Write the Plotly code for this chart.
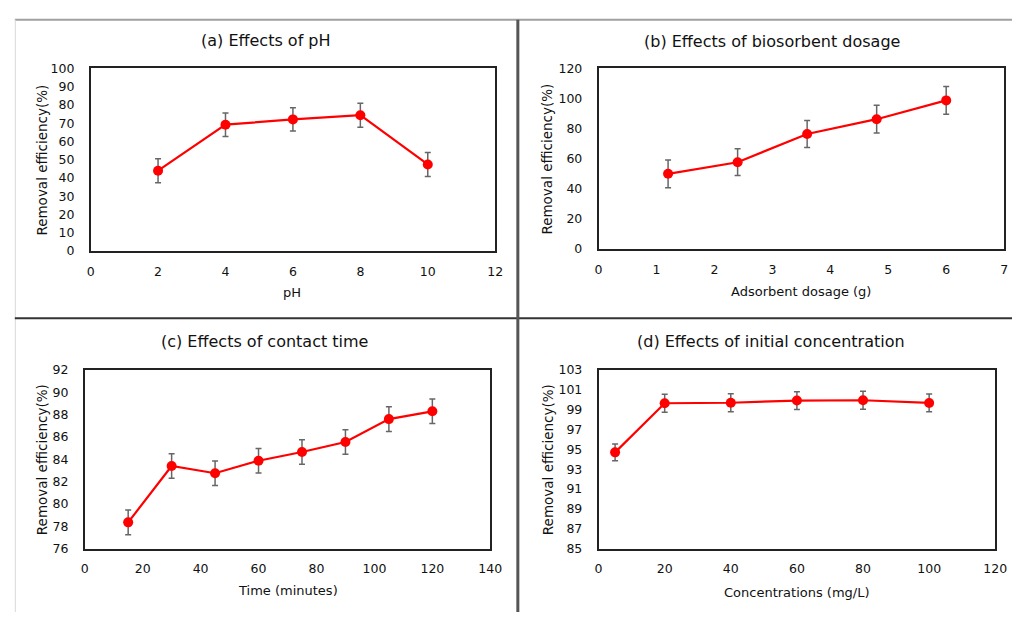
import plotly.graph_objects as go

W, H = 1024, 619

# ---- data ----
ph_x = [2, 4, 6, 8, 10]
ph_y = [44.0, 69.2, 72.1, 74.4, 47.4]
ph_err = [6.6, 6.4, 6.4, 6.6, 6.6]

dose_x = [1.2, 2.4, 3.6, 4.8, 6.0]
dose_y = [50.0, 57.7, 76.5, 86.3, 98.8]
dose_err = [9.2, 8.9, 9.0, 9.2, 9.2]

time_x = [15, 30, 45, 60, 75, 90, 105, 120]
time_y = [78.35, 83.4, 82.75, 83.87, 84.65, 85.55, 87.6, 88.3]
time_err = [1.1, 1.1, 1.1, 1.1, 1.1, 1.1, 1.1, 1.1]

conc_x = [5, 20, 40, 60, 80, 100]
conc_y = [94.7, 99.65, 99.7, 99.92, 99.95, 99.68]
conc_err = [0.85, 0.9, 0.9, 0.9, 0.9, 0.9]

titles = ["(a) Effects of pH", "(b) Effects of biosorbent dosage",
          "(c) Effects of contact time", "(d) Effects of initial concentration"]
x_titles = ["pH", "Adsorbent dosage (g)", "Time (minutes)", "Concentrations (mg/L)"]
y_title = "Removal efficiency(%)"

x_ranges = [[0, 12], [0, 7], [0, 140], [0, 120]]
x_dticks = [2, 1, 20, 20]
y_ranges = [[0, 100], [0, 120], [76, 92], [85, 103]]
y_dticks = [10, 20, 2, 2]

# pixel boxes: (left, right, top, bottom)
boxes = [(88, 499, 62, 249), (604, 1016, 62, 247), (82, 494, 371, 554), (604, 1007, 371, 554)]
title_pos = [(266, 33), (780, 34), (265, 342), (779, 342)]
ytitle_pos = [(39, 156), (552, 155), (38, 463), (552, 463)]
xtitle_pos = [(293, 292), (810, 291), (288, 597), (806, 599)]

FONT = "DejaVu Sans"
RED = "#ff0000"
TXT = "#111111"

def px(x):
    return x / W

def py(y):
    return 1 - y / H

fig = go.Figure()
series = [(ph_x, ph_y, ph_err), (dose_x, dose_y, dose_err),
          (time_x, time_y, time_err), (conc_x, conc_y, conc_err)]

layout = dict(
    width=W, height=H, margin=dict(l=0, r=0, t=0, b=0),
    paper_bgcolor="white", plot_bgcolor="white", showlegend=False,
    font=dict(family=FONT, color=TXT, size=12),
)
annotations = []
for i, ((xs, ys, es), box) in enumerate(zip(series, boxes)):
    n = "" if i == 0 else str(i + 1)
    fig.add_trace(go.Scatter(
        x=xs, y=ys, mode="lines+markers", xaxis="x" + n, yaxis="y" + n,
        line=dict(color=RED, width=2.2),
        marker=dict(color=RED, size=10),
        error_y=dict(type="data", array=es, visible=True, color="#666666",
                     thickness=1.5, width=3),
    ))
    l, r, t, b = box
    axis_common = dict(showline=True, linecolor="#222", linewidth=1.5, mirror=True,
                       showgrid=False, zeroline=False, ticks="outside",
                       tickcolor="rgba(0,0,0,0)",
                       tickfont=dict(family=FONT, size=12.5, color=TXT))
    layout["xaxis" + n] = dict(axis_common, domain=[px(l), px(r)], range=x_ranges[i],
                               dtick=x_dticks[i], tick0=0, ticklen=8,
                               anchor="y" + n)
    layout["yaxis" + n] = dict(axis_common, domain=[py(b), py(t)], range=y_ranges[i],
                               dtick=y_dticks[i], tick0=y_ranges[i][0], ticklen=12,
                               anchor="x" + n)
    tx, ty = title_pos[i]
    annotations.append(dict(text=titles[i], x=px(tx), y=py(ty), xref="paper", yref="paper",
                            showarrow=False, xanchor="center", yanchor="middle",
                            font=dict(family=FONT, size=16, color=TXT)))
    ax_, ay_ = ytitle_pos[i]
    annotations.append(dict(text=y_title, x=px(ax_), y=py(ay_), xref="paper", yref="paper",
                            showarrow=False, xanchor="center", yanchor="middle", textangle=-90,
                            font=dict(family=FONT, size=13.5, color=TXT)))
    bx, by = xtitle_pos[i]
    annotations.append(dict(text=x_titles[i], x=px(bx), y=py(by), xref="paper", yref="paper",
                            showarrow=False, xanchor="center", yanchor="middle",
                            font=dict(family=FONT, size=13, color=TXT)))

layout["annotations"] = annotations
layout["shapes"] = [
    dict(type="line", xref="paper", yref="paper", x0=px(11), x1=1, y0=py(12), y1=py(12),
         line=dict(color="#a0a0a0", width=2)),
    dict(type="line", xref="paper", yref="paper", x0=px(11.5), x1=px(11.5), y0=py(12), y1=0,
         line=dict(color="#d8d8d8", width=1)),
    dict(type="line", xref="paper", yref="paper", x0=px(11), x1=1, y0=py(318), y1=py(318),
         line=dict(color="#333333", width=2)),
    dict(type="line", xref="paper", yref="paper", x0=px(522), x1=px(522), y0=py(12), y1=0,
         line=dict(color="#555555", width=3)),
]
fig.update_layout(**layout)
fig.write_html("out.html")
